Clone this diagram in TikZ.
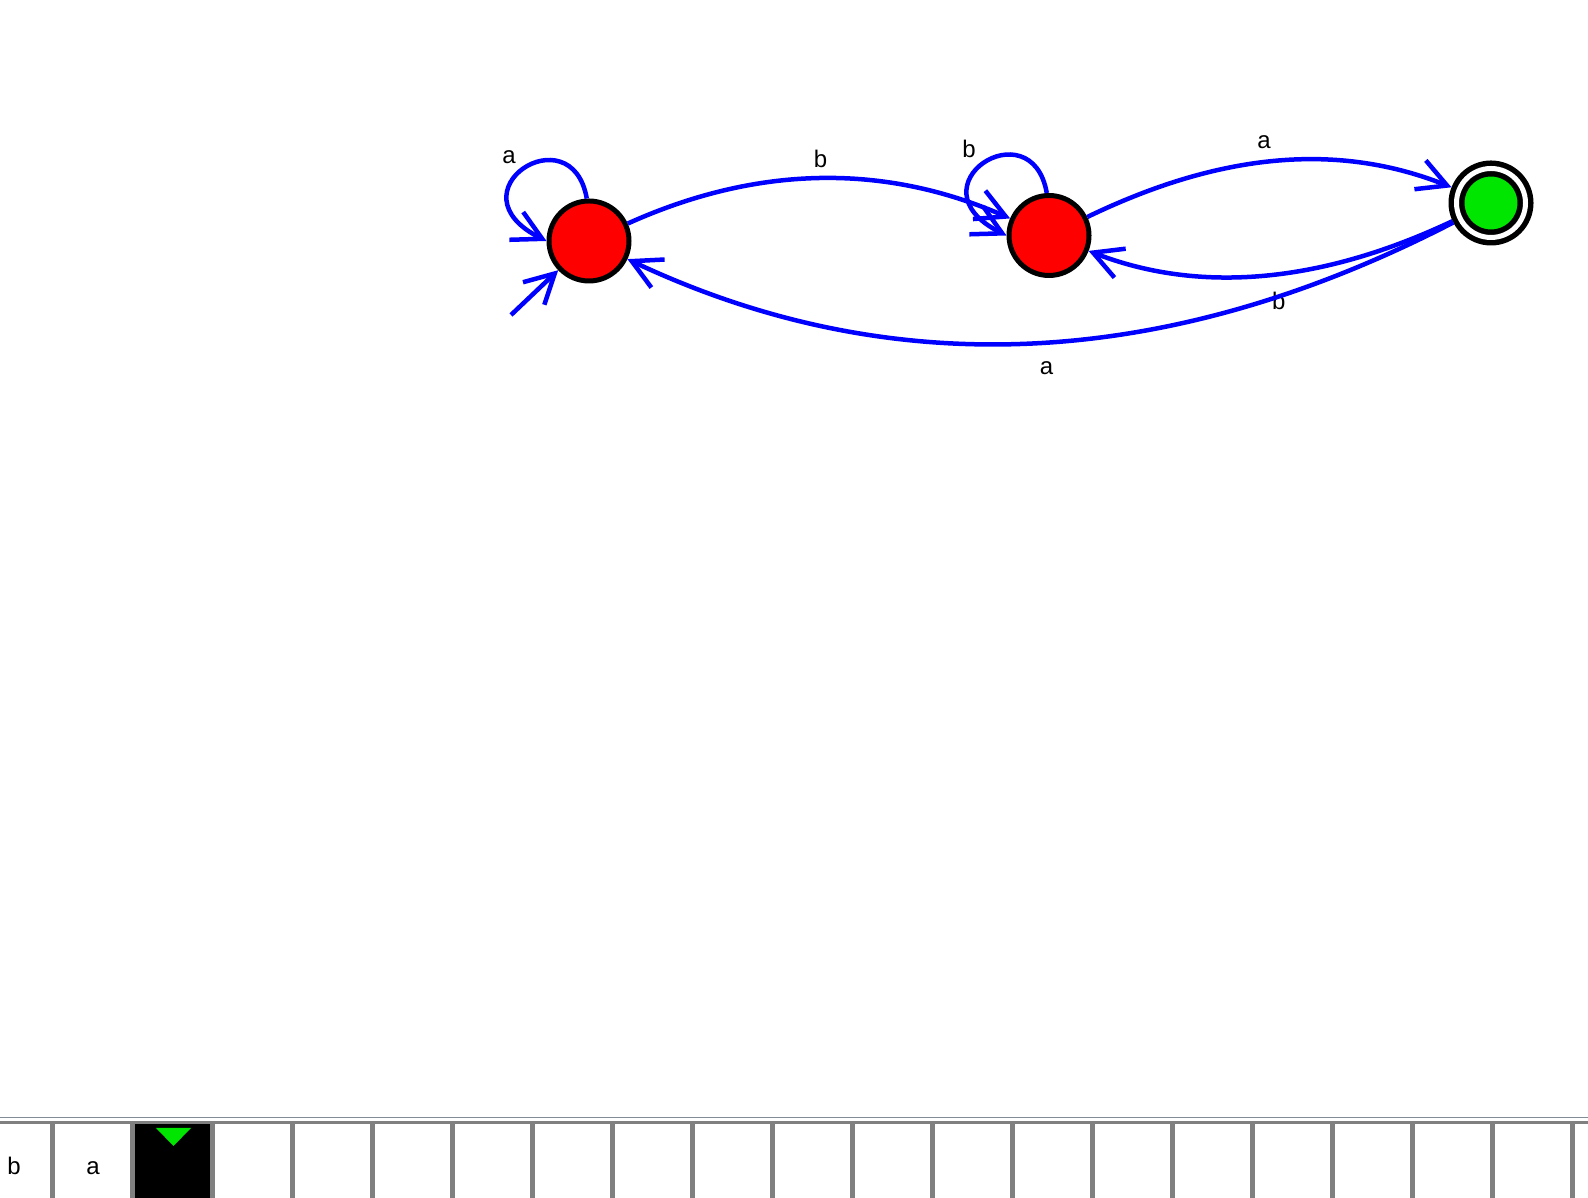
\documentclass[tikz,border=0pt]{standalone}
\usepackage{fontspec}
\setmainfont{Liberation Sans}
\usetikzlibrary{arrows.meta,positioning}
\definecolor{stred}{RGB}{255,0,0}
\definecolor{trblue}{RGB}{0,0,255}
\definecolor{accgreen}{RGB}{0,230,0}
\definecolor{tapegray}{RGB}{128,128,128}
\definecolor{rulegray}{RGB}{130,140,150}
\tikzset{
  stnode/.style={circle, draw=black, fill=stred, line width=5pt, minimum size=80pt, inner sep=0pt},
  accnode/.style={circle, draw=black, fill=accgreen, line width=5.5pt, double=white, double distance=5pt, minimum size=69pt, inner sep=0pt, outer sep=8pt},
  trans/.style={draw=trblue, line width=4.5pt, -{Straight Barb[length=29pt,width=31pt]}},
  lbl/.style={font=\fontsize{24}{28}\selectfont, inner sep=0pt, text=black},
}
\begin{document}
\begin{tikzpicture}[x=1pt, y=1pt]
\useasboundingbox (0,0) rectangle (1588,1198);
% states
\node[stnode] (q0) at (589,957) {};
\node[stnode] (q1) at (1049,962.5) {};
\node[accnode] (q2) at (1491,995) {};
\coordinate (init) at (511,883);
% transitions
\draw[trans] (init) -- (q0);
\draw[trans] (q0.93) .. controls +(100:88) and +(153.5:110) .. (q0.west) node[lbl, pos=.5, above left=3pt and 6pt] {a};
\draw[trans] (q1.93) .. controls +(100:88) and +(153.5:110) .. (q1.west) node[lbl, pos=.5, above left=3pt and 6pt] {b};
\draw[trans] (q0) .. controls (757.7,1033) and (884.3,1034.7) .. (q1) node[lbl, midway, above=8pt] {b};
\draw[trans] (q1) .. controls (1223.3,1046.7) and (1340,1055) .. (q2) node[lbl, pos=.46, above=11pt] {a};
\draw[trans] (q2) .. controls (1317.3,913) and (1196.7,905) .. (q1) node[lbl, pos=.45, below=16pt] {b};
\draw[trans] (q2) .. controls (1164,826) and (889.3,815.3) .. (q0) node[lbl, pos=.48, below=17pt] {a};
% tape
\fill[rulegray] (0,80) rectangle (1588,81);
\fill[tapegray] (0,74) rectangle (1588,77.3);
\foreach \i in {0,...,19}
  \fill[tapegray] ({52.7+80*\i-2.75},0) rectangle ({52.7+80*\i+2.75},74);
\fill[black] (135.4,0) rectangle (210,74);
\fill[accgreen] (156,70) -- (191,70) -- (173.5,52) -- cycle;
\node[lbl, anchor=base] (c0) at (14,23) {b};
\node[lbl, anchor=base] (c1) at (93,23) {a};
\end{tikzpicture}
\end{document}
